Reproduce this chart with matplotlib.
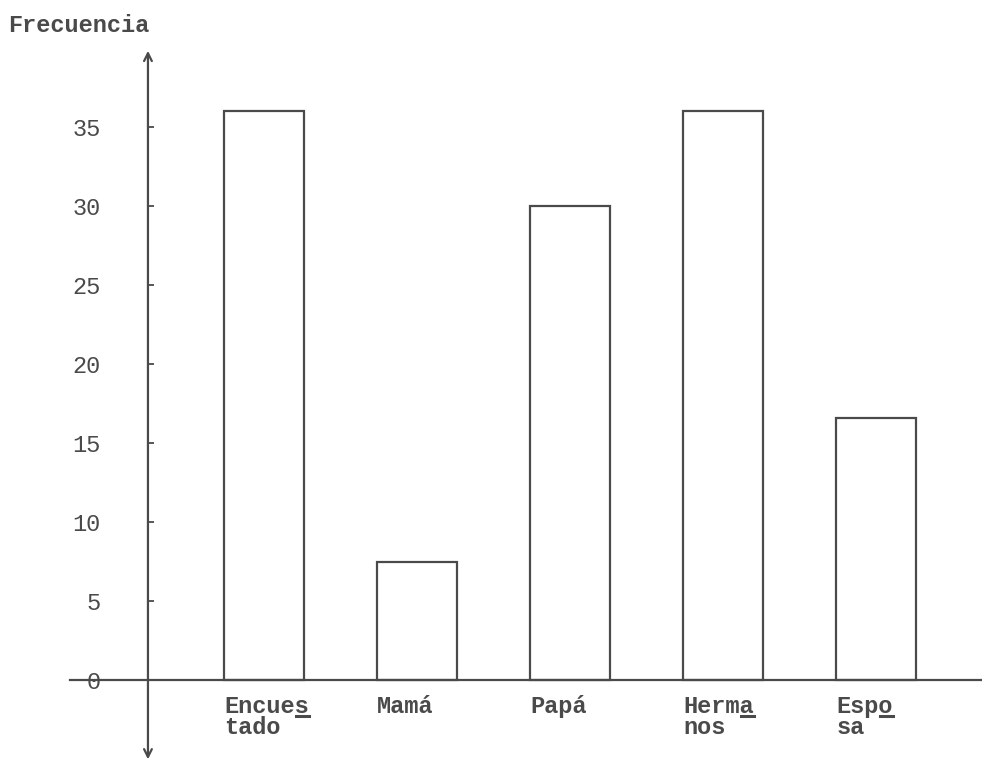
"""
Bar chart replica: Frecuencia por parentesco (typewriter style).
"""
import matplotlib
matplotlib.use("Agg")
import matplotlib.pyplot as plt
from matplotlib.lines import Line2D
from matplotlib.transforms import IdentityTransform

# ─────────────────────────────────────────────────────────────────────────────
# DATA
# ─────────────────────────────────────────────────────────────────────────────
CATEGORIES   = ["Encuestado", "Mamá", "Papá", "Hermanos", "Esposa"]
FREQUENCIES  = [36, 7.5, 30, 36, 16.6]
LABEL_TOP    = ["Encues", "Mamá", "Papá", "Herma", "Espo"]
LABEL_BOTTOM = ["tado", "", "", "nos", "sa"]
UNDERLINE_AT = [5, None, None, 4, 3]   # char index with typewriter underscore
Y_TICKS      = [0, 5, 10, 15, 20, 25, 30, 35]
Y_LABEL      = "Frecuencia"

# ─────────────────────────────────────────────────────────────────────────────
# STYLE
# ─────────────────────────────────────────────────────────────────────────────
INK      = "#4a4a4a"
FONT     = "Liberation Mono"
FS       = 17
BAR_W    = 0.52

fig = plt.figure(figsize=(9.82, 7.65), dpi=100)
ax = fig.add_axes([0, 0, 1, 1])
ax.set_xlim(-1.725, 4.693)
ax.set_ylim(-5.38, 43.04)

xs = list(range(len(CATEGORIES)))
ax.bar(xs, FREQUENCIES, width=BAR_W, facecolor="white",
       edgecolor=INK, linewidth=1.6, zorder=2)

# axes drawn by hand, with arrows like the original sketch
y_axis_x = -0.758
ax.annotate("", xy=(y_axis_x, 40.0), xytext=(y_axis_x, -5.2),
            arrowprops=dict(arrowstyle="<->", color=INK, lw=1.6,
                            mutation_scale=14))
ax.plot([-1.27, 4.693], [0, 0], color=INK, lw=1.6, zorder=3)

for sp in ax.spines.values():
    sp.set_visible(False)

# y ticks along the hand-drawn axis
ax.spines["left"].set_position(("data", y_axis_x))
ax.set_yticks(Y_TICKS)
ax.set_yticklabels([str(t) for t in Y_TICKS])
ax.tick_params(axis="y", direction="in", length=4, width=1.3, color=INK,
               pad=34, labelsize=FS, labelcolor=INK)
for lab in ax.get_yticklabels():
    lab.set_fontfamily(FONT)
ax.set_xticks([])

# category labels, typewriter two-line with underscored hyphen letter
renderer = fig.canvas.get_renderer()
for x, top, bot, u in zip(xs, LABEL_TOP, LABEL_BOTTOM, UNDERLINE_AT):
    left = x - BAR_W / 2
    t1 = ax.text(left, -0.95, top, ha="left", va="top", fontsize=FS,
                 family=FONT, color=INK, weight="bold")
    if bot:
        ax.text(left, -2.3, bot, ha="left", va="top", fontsize=FS,
                family=FONT, color=INK, weight="bold")
    if u is not None:
        bb = t1.get_window_extent(renderer)
        cw = bb.width / len(top)
        x0 = bb.x0 + cw * u + 1
        ly = bb.y0 + 2
        fig.add_artist(Line2D([x0, x0 + cw - 1], [ly, ly], color=INK,
                              lw=2.2, transform=IdentityTransform()))

fig.text(0.008, 0.967, Y_LABEL, ha="left", va="center", fontsize=FS,
         family=FONT, color=INK, weight="bold")

fig.savefig("out.png", dpi=100, facecolor="white")
